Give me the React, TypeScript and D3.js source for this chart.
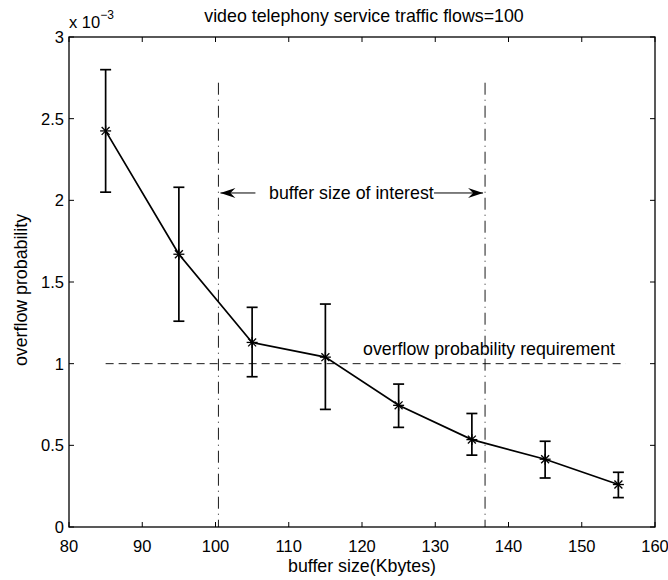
import React from 'react';
import * as d3 from 'd3';

const bufferSizes = [85, 95, 105, 115, 125, 135, 145, 155];
const overflowProb = [2.425, 1.67, 1.13, 1.04, 0.745, 0.535, 0.415, 0.26];
const upperBound = [2.80, 2.08, 1.345, 1.365, 0.875, 0.695, 0.525, 0.335];
const lowerBound = [2.05, 1.26, 0.92, 0.72, 0.61, 0.44, 0.30, 0.18];
const xTicks = [80, 90, 100, 110, 120, 130, 140, 150, 160];
const yTicks = [0, 0.5, 1, 1.5, 2, 2.5, 3];
const interestRange = [100.4, 136.8];
const interestTop = 2.72;
const arrowLevel = 2.045;
const requirement = 1;
const requirementSpan = [85, 156];

const width = 668;
const height = 580;
const margin = { top: 37, right: 13, bottom: 53, left: 69 };
const font = 'Liberation Sans, Arial, Helvetica, sans-serif';
const textSize = 17.8;
const tickSize = 16.5;

function Star({ x, y }: { x: number; y: number }) {
  const r = 5.5;
  const d = r * 0.72;
  return (
    <g stroke="#000" strokeWidth={1.3}>
      <line x1={x - r} y1={y} x2={x + r} y2={y} />
      <line x1={x} y1={y - r} x2={x} y2={y + r} />
      <line x1={x - d} y1={y - d} x2={x + d} y2={y + d} />
      <line x1={x - d} y1={y + d} x2={x + d} y2={y - d} />
    </g>
  );
}

export default function App() {
  const x = d3.scaleLinear().domain([80, 160]).range([margin.left, width - margin.right]);
  const y = d3.scaleLinear().domain([0, 3]).range([height - margin.bottom, margin.top]);
  const [x0, x1] = x.range();
  const [y0, y1] = y.range();

  const line = d3.line<number>()
    .x((_, i) => x(bufferSizes[i]))
    .y(d => y(d));

  const cap = 5.5;
  const tick = 5;
  const ay = y(arrowLevel);
  const lx = x(interestRange[0]);
  const rx = x(interestRange[1]);

  return (
    <svg width={width} height={height} style={{ position: 'absolute', left: 0, top: 0 }} fontFamily={font}>
      <rect width={width} height={height} fill="#fff" />
      {/* box */}
      <rect x={x0} y={y1} width={x1 - x0} height={y0 - y1} fill="none" stroke="#000" strokeWidth={1.3} />
      {xTicks.map(t => (
        <g key={'x' + t}>
          <line x1={x(t)} x2={x(t)} y1={y0} y2={y0 - tick} stroke="#000" />
          <line x1={x(t)} x2={x(t)} y1={y1} y2={y1 + tick} stroke="#000" />
          <text x={x(t)} y={y0 + 25} fontSize={tickSize} textAnchor="middle">{t}</text>
        </g>
      ))}
      {yTicks.map(t => (
        <g key={'y' + t}>
          <line x1={x0} x2={x0 + tick} y1={y(t)} y2={y(t)} stroke="#000" />
          <line x1={x1} x2={x1 - tick} y1={y(t)} y2={y(t)} stroke="#000" />
          <text x={x0 - 5} y={y(t) + 6} fontSize={tickSize} textAnchor="end">{t}</text>
        </g>
      ))}
      <text x={x0} y={28} fontSize={tickSize}>
        x 10<tspan dy={-9} fontSize={12}>−3</tspan>
      </text>
      <text x={364} y={22} fontSize={textSize} textAnchor="middle">video telephony service traffic flows=100</text>
      <text x={362} y={572} fontSize={textSize} textAnchor="middle">buffer size(Kbytes)</text>
      <text transform={`translate(27,290) rotate(-90)`} fontSize={textSize} textAnchor="middle">overflow probability</text>

      {/* reference lines */}
      {interestRange.map(v => (
        <line key={'v' + v} x1={x(v)} x2={x(v)} y1={y(interestTop)} y2={y0}
          stroke="#000" strokeWidth={0.9} strokeDasharray="12,5,1,5" />
      ))}
      <line x1={x(requirementSpan[0])} x2={x(requirementSpan[1])} y1={y(requirement)} y2={y(requirement)}
        stroke="#000" strokeWidth={0.9} strokeDasharray="8,5" />
      <text x={363} y={355} fontSize={textSize}>overflow probability requirement</text>

      {/* arrows */}
      <line x1={lx + 2} x2={lx + 37} y1={ay} y2={ay} stroke="#000" strokeWidth={1} />
      <path d={`M${lx + 2},${ay} L${lx + 17},${ay - 5} L${lx + 12},${ay} L${lx + 17},${ay + 5} Z`} fill="#000" />
      <text x={269} y={ay + 6} fontSize={textSize}>buffer size of interest</text>
      <line x1={434} x2={rx - 2} y1={ay} y2={ay} stroke="#000" strokeWidth={1} />
      <path d={`M${rx - 2},${ay} L${rx - 17},${ay - 5} L${rx - 12},${ay} L${rx - 17},${ay + 5} Z`} fill="#000" />

      {/* error bars */}
      {bufferSizes.map((b, i) => (
        <g key={'e' + b} stroke="#000" strokeWidth={1.7}>
          <line x1={x(b)} x2={x(b)} y1={y(upperBound[i])} y2={y(lowerBound[i])} />
          <line x1={x(b) - cap} x2={x(b) + cap} y1={y(upperBound[i])} y2={y(upperBound[i])} />
          <line x1={x(b) - cap} x2={x(b) + cap} y1={y(lowerBound[i])} y2={y(lowerBound[i])} />
        </g>
      ))}
      <path d={line(overflowProb) || ''} fill="none" stroke="#000" strokeWidth={1.7} />
      {bufferSizes.map((b, i) => (
        <Star key={'s' + b} x={x(b)} y={y(overflowProb[i])} />
      ))}
    </svg>
  );
}
